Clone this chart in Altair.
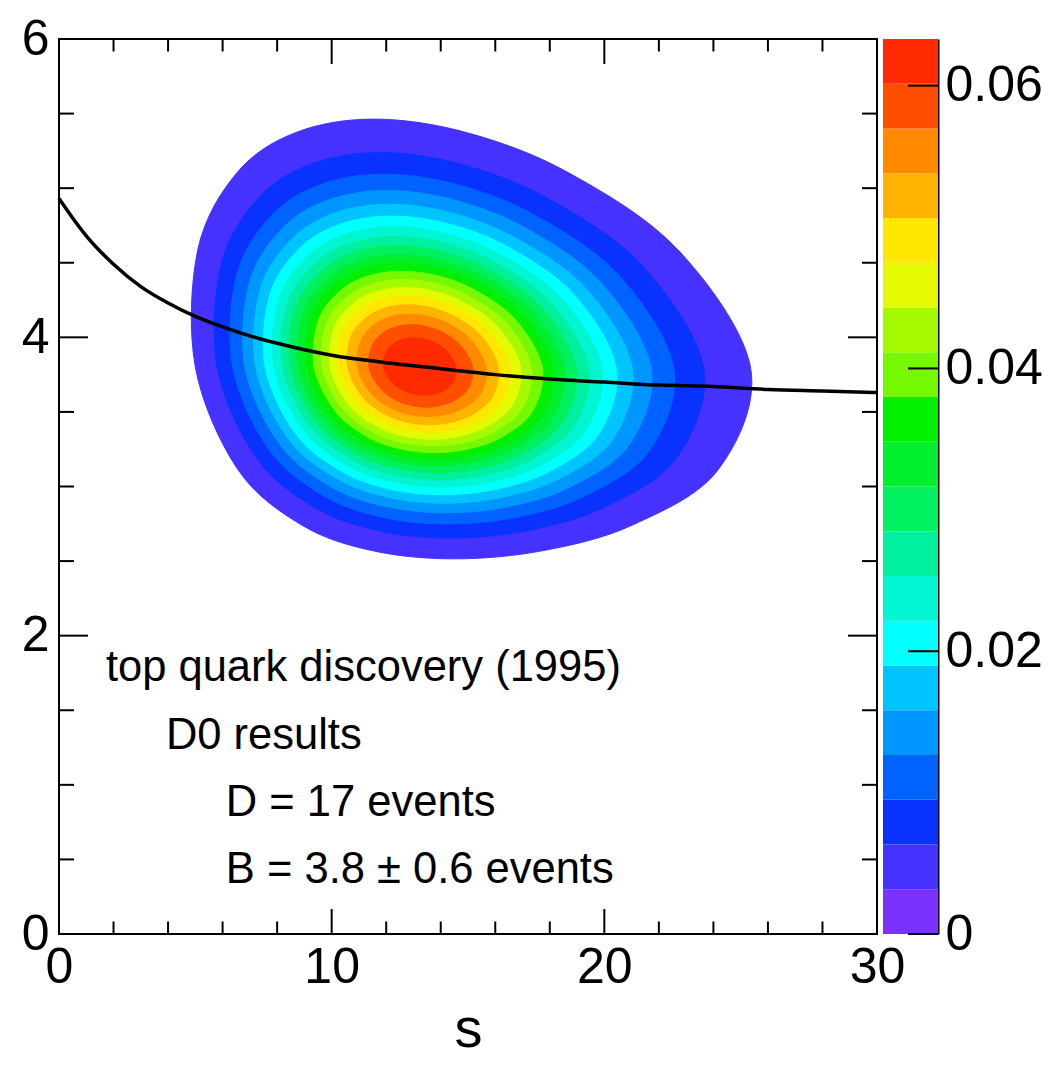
import altair as alt
import pandas as pd

# ---------------- data ----------------
X_LABELS = [0, 10, 20, 30]
Y_LABELS = [0, 2, 4, 6]
X_MAJOR = [10, 20]
X_MINOR = [2, 4, 6, 8, 12, 14, 16, 18, 22, 24, 26, 28]
Y_MAJOR = [2, 4]
Y_MINOR = [0.5, 1, 1.5, 2.5, 3, 3.5, 4.5, 5, 5.5]

CBAR_EDGES = [0, 0.003165, 0.00633, 0.009495, 0.01266, 0.015825, 0.01899, 0.022155,
              0.02532, 0.028485, 0.03165, 0.034815, 0.03798, 0.041145, 0.04431,
              0.047475, 0.05064, 0.053805, 0.05697, 0.060135, 0.0633]
CBAR_COLORS = ["#7b32ff", "#4632ff", "#0a32ff", "#0062ff", "#0096ff", "#00c4ff",
               "#00ffff", "#00f5d0", "#00f0a0", "#00f060", "#00f030", "#00f000",
               "#76f800", "#a6fa00", "#e4fa00", "#ffe800", "#ffb400", "#ff8a00",
               "#ff4e00", "#ff2a00"]
CBAR_TICKS = [0, 0.02, 0.04, 0.06]

# contour levels, outermost (19) to innermost (1)
CONTOUR_LEVEL = [19, 18, 17, 16, 15, 14, 13, 12, 11, 10, 9, 8, 7, 6, 5, 4, 3, 2, 1]
CONTOUR_S = [
    [14.49, 11.46, 8.88, 6.56, 5.00, 5.09, 6.52, 8.66, 11.54, 14.98, 18.70, 22.70, 25.36, 24.18, 21.06, 17.78],
    [14.35, 11.68, 9.35, 7.23, 5.80, 5.94, 7.29, 9.22, 11.76, 14.76, 17.95, 21.37, 23.64, 22.66, 20.02, 17.21],
    [14.25, 11.81, 9.67, 7.70, 6.37, 6.52, 7.80, 9.59, 11.91, 14.61, 17.47, 20.52, 22.54, 21.69, 19.35, 16.84],
    [14.18, 11.92, 9.92, 8.07, 6.82, 6.99, 8.20, 9.87, 12.02, 14.50, 17.11, 19.87, 21.71, 20.95, 18.83, 16.55],
    [14.11, 12.01, 10.14, 8.39, 7.21, 7.39, 8.54, 10.11, 12.11, 14.40, 16.80, 19.34, 21.02, 20.34, 18.41, 16.31],
    [14.06, 12.09, 10.33, 8.67, 7.56, 7.74, 8.84, 10.32, 12.19, 14.32, 16.54, 18.88, 20.43, 19.81, 18.03, 16.09],
    [14.00, 12.17, 10.51, 8.94, 7.89, 8.07, 9.11, 10.51, 12.26, 14.25, 16.30, 18.46, 19.90, 19.33, 17.70, 15.90],
    [13.95, 12.23, 10.67, 9.19, 8.20, 8.38, 9.37, 10.69, 12.33, 14.18, 16.08, 18.08, 19.41, 18.90, 17.39, 15.72],
    [13.91, 12.30, 10.83, 9.43, 8.49, 8.67, 9.61, 10.85, 12.39, 14.11, 15.88, 17.73, 18.96, 18.49, 17.10, 15.55],
    [13.86, 12.36, 10.98, 9.67, 8.78, 8.96, 9.85, 11.01, 12.45, 14.05, 15.69, 17.40, 18.53, 18.10, 16.82, 15.39],
    [13.82, 12.42, 11.13, 9.90, 9.07, 9.24, 10.08, 11.17, 12.50, 13.99, 15.50, 17.07, 18.12, 17.73, 16.55, 15.24],
    [13.77, 12.48, 11.28, 10.13, 9.36, 9.52, 10.31, 11.32, 12.56, 13.93, 15.32, 16.76, 17.72, 17.37, 16.29, 15.08],
    [13.73, 12.54, 11.43, 10.36, 9.65, 9.80, 10.54, 11.47, 12.61, 13.87, 15.14, 16.45, 17.32, 17.01, 16.03, 14.93],
    [13.68, 12.59, 11.58, 10.60, 9.94, 10.09, 10.77, 11.63, 12.67, 13.81, 14.95, 16.14, 16.93, 16.65, 15.77, 14.77],
    [13.64, 12.66, 11.74, 10.85, 10.25, 10.39, 11.01, 11.79, 12.72, 13.74, 14.77, 15.82, 16.53, 16.28, 15.50, 14.61],
    [13.59, 12.72, 11.91, 11.12, 10.59, 10.71, 11.27, 11.96, 12.78, 13.68, 14.58, 15.50, 16.11, 15.90, 15.22, 14.44],
    [13.53, 12.79, 12.09, 11.41, 10.95, 11.07, 11.54, 12.14, 12.85, 13.61, 14.37, 15.14, 15.66, 15.49, 14.92, 14.26],
    [13.47, 12.87, 12.30, 11.75, 11.37, 11.47, 11.86, 12.35, 12.92, 13.53, 14.14, 14.75, 15.17, 15.03, 14.58, 14.05],
    [13.39, 12.97, 12.57, 12.18, 11.91, 11.98, 12.26, 12.60, 13.00, 13.43, 13.85, 14.27, 14.56, 14.47, 14.16, 13.80],
]
CONTOUR_B = [
    [2.515, 2.571, 2.744, 3.114, 3.8, 4.587, 5.102, 5.371, 5.463, 5.371, 5.102, 4.587, 3.8, 3.114, 2.744, 2.571],
    [2.654, 2.705, 2.862, 3.194, 3.8, 4.485, 4.929, 5.160, 5.239, 5.160, 4.929, 4.485, 3.8, 3.194, 2.862, 2.705],
    [2.749, 2.796, 2.942, 3.247, 3.8, 4.419, 4.817, 5.024, 5.094, 5.024, 4.817, 4.419, 3.8, 3.247, 2.942, 2.796],
    [2.824, 2.868, 3.004, 3.289, 3.8, 4.368, 4.732, 4.920, 4.984, 4.920, 4.732, 4.368, 3.8, 3.289, 3.004, 2.868],
    [2.888, 2.930, 3.058, 3.324, 3.8, 4.325, 4.660, 4.834, 4.892, 4.834, 4.660, 4.325, 3.8, 3.324, 3.058, 2.930],
    [2.945, 2.984, 3.105, 3.355, 3.8, 4.288, 4.599, 4.759, 4.813, 4.759, 4.599, 4.288, 3.8, 3.355, 3.105, 2.984],
    [2.997, 3.034, 3.148, 3.383, 3.8, 4.255, 4.543, 4.691, 4.741, 4.691, 4.543, 4.255, 3.8, 3.383, 3.148, 3.034],
    [3.046, 3.082, 3.188, 3.410, 3.8, 4.224, 4.492, 4.629, 4.675, 4.629, 4.492, 4.224, 3.8, 3.410, 3.188, 3.082],
    [3.093, 3.126, 3.227, 3.435, 3.8, 4.195, 4.443, 4.571, 4.614, 4.571, 4.443, 4.195, 3.8, 3.435, 3.227, 3.126],
    [3.138, 3.170, 3.264, 3.459, 3.8, 4.167, 4.397, 4.515, 4.555, 4.515, 4.397, 4.167, 3.8, 3.459, 3.264, 3.170],
    [3.183, 3.212, 3.301, 3.483, 3.8, 4.140, 4.353, 4.462, 4.499, 4.462, 4.353, 4.140, 3.8, 3.483, 3.301, 3.212],
    [3.227, 3.254, 3.337, 3.506, 3.8, 4.114, 4.310, 4.410, 4.443, 4.410, 4.310, 4.114, 3.8, 3.506, 3.337, 3.254],
    [3.272, 3.297, 3.373, 3.530, 3.8, 4.088, 4.266, 4.358, 4.388, 4.358, 4.266, 4.088, 3.8, 3.530, 3.373, 3.297],
    [3.317, 3.341, 3.410, 3.554, 3.8, 4.061, 4.223, 4.306, 4.333, 4.306, 4.223, 4.061, 3.8, 3.554, 3.410, 3.341],
    [3.365, 3.386, 3.449, 3.578, 3.8, 4.034, 4.179, 4.252, 4.277, 4.252, 4.179, 4.034, 3.8, 3.578, 3.449, 3.386],
    [3.415, 3.433, 3.490, 3.604, 3.8, 4.006, 4.132, 4.197, 4.218, 4.197, 4.132, 4.006, 3.8, 3.604, 3.490, 3.433],
    [3.470, 3.486, 3.534, 3.632, 3.8, 3.975, 4.083, 4.137, 4.155, 4.137, 4.083, 3.975, 3.8, 3.632, 3.534, 3.486],
    [3.532, 3.546, 3.585, 3.665, 3.8, 3.941, 4.027, 4.070, 4.085, 4.070, 4.027, 3.941, 3.8, 3.665, 3.585, 3.546],
    [3.612, 3.621, 3.649, 3.705, 3.8, 3.898, 3.957, 3.987, 3.997, 3.987, 3.957, 3.898, 3.8, 3.705, 3.649, 3.621],
]

CURVE_S = [0, 0.5, 1, 2, 3, 4, 5, 6, 7, 8, 10, 12, 14, 16, 18, 20, 22, 24, 26, 28, 30]
CURVE_B = [4.93, 4.80, 4.68, 4.49, 4.34, 4.23, 4.14, 4.07, 4.01, 3.96, 3.88, 3.83,
           3.79, 3.75, 3.72, 3.70, 3.68, 3.67, 3.65, 3.64, 3.63]

TEXT_LINES = ["top quark discovery (1995)", "D0 results", "D = 17 events",
              "B = 3.8 \u00b1 0.6 events"]
TEXT_S = [1.72, 3.92, 6.12, 6.12]
TEXT_B = [1.694, 1.243, 0.791, 0.339]

# ---------------- layout / style ----------------
W, H = 818, 895
CB_W = 55
FONT = "Liberation Sans"

xscale = alt.Scale(domain=[0, 30], nice=False, zero=False)
yscale = alt.Scale(domain=[0, 6], nice=False, zero=False)
xaxis = alt.Axis(values=X_LABELS, title="s", labelFontSize=50, titleFontSize=56,
                 titleFontWeight="normal", labelPadding=8, titlePadding=10,
                 ticks=False, tickSize=0, domain=False, grid=False,
                 labelFlush=False, labelOverlap=False, labelFont=FONT,
                 titleFont=FONT, labelColor="black", titleColor="black")
yaxis = alt.Axis(values=Y_LABELS, title=None, labelFontSize=50, labelPadding=10,
                 ticks=False, tickSize=0, domain=False, grid=False,
                 labelFlush=False, labelOverlap=False, labelFont=FONT,
                 labelColor="black")

X = alt.X("s:Q", scale=xscale, axis=xaxis)
Y = alt.Y("b:Q", scale=yscale, axis=yaxis)

layers = []
for lvl, ss, bb in zip(CONTOUR_LEVEL, CONTOUR_S, CONTOUR_B):
    col = CBAR_COLORS[20 - lvl]
    df = pd.DataFrame({"s": ss, "b": bb, "i": list(range(len(ss)))})
    layers.append(
        alt.Chart(df).mark_line(interpolate="cardinal-closed", fill=col, stroke=col,
                                strokeWidth=1)
        .encode(x=X, y=Y, order=alt.Order("i:Q"))
    )

curve = alt.Chart(pd.DataFrame({"s": CURVE_S, "b": CURVE_B})).mark_line(
    color="black", strokeWidth=3.5, interpolate="monotone").encode(x=X, y=Y)
layers.append(curve)

text = alt.Chart(pd.DataFrame({"s": TEXT_S, "b": TEXT_B, "t": TEXT_LINES})).mark_text(
    align="left", baseline="alphabetic", fontSize=43.5, font=FONT, color="black"
).encode(x=X, y=Y, text="t:N")
layers.append(text)


def xticks(vals, length):
    d = pd.DataFrame({"s": vals})
    bot = alt.Chart(d).mark_rule(color="black", strokeWidth=2).encode(
        x=X, y=alt.value(H), y2=alt.value(H - length))
    top = alt.Chart(d).mark_rule(color="black", strokeWidth=2).encode(
        x=X, y=alt.value(0), y2=alt.value(length))
    return [bot, top]


def yticks(vals, length):
    d = pd.DataFrame({"b": vals})
    left = alt.Chart(d).mark_rule(color="black", strokeWidth=2).encode(
        y=Y, x=alt.value(0), x2=alt.value(length))
    right = alt.Chart(d).mark_rule(color="black", strokeWidth=2).encode(
        y=Y, x=alt.value(W), x2=alt.value(W - length))
    return [left, right]


layers += xticks(X_MAJOR, 25) + xticks(X_MINOR, 12.5)
layers += yticks(Y_MAJOR, 29) + yticks(Y_MINOR, 15)

main = alt.layer(*layers).properties(
    width=W, height=H, view=alt.ViewBackground(stroke="black", strokeWidth=2))

# ---------------- colour bar ----------------
cscale = alt.Scale(domain=[0, CBAR_EDGES[-1]], nice=False, zero=False)
caxis = alt.Axis(values=CBAR_TICKS, format="~g", orient="right", title=None,
                 labelFontSize=50, labelPadding=7, ticks=False, tickSize=0,
                 domain=True, domainColor="black", domainWidth=2, grid=False,
                 labelFlush=False, labelOverlap=False, labelFont=FONT,
                 labelColor="black")
cb_df = pd.DataFrame({"lo": CBAR_EDGES[:-1], "hi": CBAR_EDGES[1:], "c": CBAR_COLORS})
bands = alt.Chart(cb_df).mark_rect(strokeWidth=0).encode(
    y=alt.Y("lo:Q", scale=cscale, axis=caxis), y2="hi:Q",
    x=alt.value(0), x2=alt.value(CB_W),
    color=alt.Color("c:N", scale=None))
cticks = alt.Chart(pd.DataFrame({"lo": CBAR_TICKS})).mark_rule(
    color="black", strokeWidth=2).encode(
    y=alt.Y("lo:Q", scale=cscale, axis=caxis), x=alt.value(CB_W - 30), x2=alt.value(CB_W))
cbar = alt.layer(bands, cticks).properties(
    width=CB_W, height=H, view=alt.ViewBackground(stroke=None))

chart = alt.hconcat(main, cbar, spacing=6, bounds="flush").properties(
    padding={"left": 12, "top": 5, "right": 5, "bottom": 2}
).configure(font=FONT)

chart.save("out.html", embed_options={"renderer": "svg", "actions": False})
